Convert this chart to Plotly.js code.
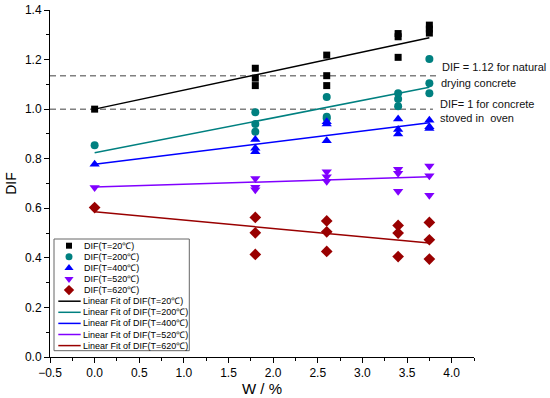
<!DOCTYPE html>
<html>
<head>
<meta charset="utf-8">
<script src="https://cdn.plot.ly/plotly-3.0.1.min.js"></script>
<style>html,body{margin:0;padding:0;background:#fff;}#chart{width:550px;height:398px;}</style>
</head>
<body>
<div id="chart"></div>
<script>
// ---------- data ----------
const seriesNames = ["DIF(T=20℃)", "DIF(T=200℃)", "DIF(T=400℃)", "DIF(T=520℃)", "DIF(T=620℃)"];
const fitNames = ["Linear Fit of DIF(T=20℃)", "Linear Fit of DIF(T=200℃)", "Linear Fit of DIF(T=400℃)", "Linear Fit of DIF(T=520℃)", "Linear Fit of DIF(T=620℃)"];
const pointX = [0, 1.8, 1.8, 1.8, 2.6, 2.6, 2.6, 3.4, 3.4, 3.4, 3.75, 3.75, 3.75];
const dif20  = [1.0, 1.165, 1.125, 1.095, 1.218, 1.135, 1.095, 1.305, 1.292, 1.209, 1.339, 1.323, 1.307];
const dif200 = [0.854, 0.987, 0.94, 0.909, 1.049, 0.969, 0.962, 1.064, 1.041, 1.012, 1.202, 1.104, 1.064];
const dif400 = [0.778, 0.878, 0.842, 0.828, 0.949, 0.94, 0.872, 0.96, 0.918, 0.9, 0.955, 0.929, 0.922];
const dif520 = [0.684, 0.72, 0.685, 0.675, 0.747, 0.727, 0.709, 0.757, 0.741, 0.669, 0.771, 0.731, 0.653];
const dif620 = [0.603, 0.563, 0.501, 0.414, 0.549, 0.505, 0.426, 0.531, 0.500, 0.405, 0.543, 0.473, 0.395];
const fitX = [0, 3.75];
const fit20  = [1.0, 1.288];
const fit200 = [0.824, 1.088];
const fit400 = [0.778, 0.945];
const fit520 = [0.686, 0.727];
const fit620 = [0.586, 0.46];
const refLevels = [1.135, 1.0];
const refEnds = [3.835, 3.79];
const refLabels = [["DIF = 1.12 for natural", "drying concrete"], ["DIF= 1 for concrete", "stoved in\u00a0\u00a0oven"]];

// ---------- styles ----------
const FONT = "Arial, 'Liberation Sans', sans-serif";
const colors = ["#000000", "#008080", "#0000FF", "#8000FF", "#990000"];
const symbols = ["square", "circle", "triangle-up", "triangle-down", "diamond"];
const sizes = [7, 8, 9, 9, 9];
const ys = [dif20, dif200, dif400, dif520, dif620];
const fits = [fit20, fit200, fit400, fit520, fit620];

const traces = [];
for (let i = 0; i < 5; i++) {
  traces.push({
    type: "scatter", mode: "lines", x: fitX, y: fits[i], name: fitNames[i],
    line: {color: colors[i], width: 1.5}, showlegend: false, hoverinfo: "skip"
  });
}
for (let i = 0; i < 5; i++) {
  traces.push({
    type: "scatter", mode: "markers", x: pointX, y: ys[i], name: seriesNames[i],
    marker: {color: colors[i], symbol: symbols[i], size: sizes[i], line: {width: 0}},
    showlegend: false, cliponaxis: false
  });
}

// ---------- custom legend (pixel-like overlay axes) ----------
const legX0 = 54, legX1 = 189.3, legY0 = 239, legY1 = 350.7;
const legFirst = 245.7, legStep = 11.1;
const legSymX = 69, legLineX = [58.3, 80.7], legTextX = 81.5;
const annotations = [];
const shapes = [];
for (let i = 0; i < 5; i++) {
  const yy = legFirst + legStep * i;
  traces.push({
    type: "scatter", mode: "markers", x: [legSymX], y: [yy], xaxis: "x2", yaxis: "y2",
    marker: {color: colors[i], symbol: symbols[i], size: sizes[i] - 1, line: {width: 0}},
    showlegend: false, hoverinfo: "skip"
  });
  annotations.push({xref: "x2", yref: "y2", x: legTextX, y: yy, text: seriesNames[i],
    showarrow: false, xanchor: "left", yanchor: "middle", font: {family: FONT, size: 9, color: "#000"}});
}
for (let i = 0; i < 5; i++) {
  const yy = legFirst + legStep * (i + 5);
  traces.push({
    type: "scatter", mode: "lines", x: legLineX, y: [yy, yy], xaxis: "x2", yaxis: "y2",
    line: {color: colors[i], width: 1.5}, showlegend: false, hoverinfo: "skip"
  });
  annotations.push({xref: "x2", yref: "y2", x: legTextX - 1, y: yy, text: fitNames[i],
    showarrow: false, xanchor: "left", yanchor: "middle", font: {family: FONT, size: 9, color: "#000"}});
}
shapes.push({type: "rect", xref: "x2", yref: "y2", x0: legX0, x1: legX1, y0: legY0, y1: legY1,
  line: {color: "#666", width: 1}, fillcolor: "rgba(0,0,0,0)", layer: "below"});

// reference dashed lines
for (let i = 0; i < refLevels.length; i++) {
  shapes.push({type: "line", xref: "x", yref: "y", x0: -0.5, x1: refEnds[i], y0: refLevels[i], y1: refLevels[i],
    line: {color: "#808080", width: 1.5, dash: "6px,4px"}, layer: "below"});
}
// reference labels
const refTextPos = [[[440, 66.7], [439.3, 83.3]], [[437.7, 104.3], [437.7, 117.7]]];
for (let i = 0; i < 2; i++) {
  for (let j = 0; j < 2; j++) {
    annotations.push({xref: "x2", yref: "y2", x: refTextPos[i][j][0], y: refTextPos[i][j][1],
      text: refLabels[i][j], showarrow: false, xanchor: "left", yanchor: "middle",
      font: {family: FONT, size: 11, color: "#111"}});
  }
}

const layout = {
  width: 550, height: 398,
  margin: {l: 50, r: 76, t: 10, b: 41, pad: 0},
  paper_bgcolor: "#fff", plot_bgcolor: "#fff",
  font: {family: FONT, size: 12, color: "#000"},
  showlegend: false,
  xaxis: {
    range: [-0.5, 4.25], dtick: 0.5, tick0: 0, tickformat: ".1f",
    showline: true, linecolor: "#000", linewidth: 1, showgrid: false, zeroline: false,
    ticks: "outside", ticklen: 5, tickcolor: "#000", tickfont: {family: FONT, size: 12, color: "#000"},
    minor: {dtick: 0.25, ticklen: 3, ticks: "outside", tickcolor: "#000", showgrid: false},
    title: {text: "W / %", font: {family: FONT, size: 15, color: "#000"}, standoff: 3}
  },
  yaxis: {
    range: [0, 1.4], dtick: 0.2, tick0: 0, tickformat: ".1f",
    showline: true, linecolor: "#000", linewidth: 1, showgrid: false, zeroline: false,
    ticks: "outside", ticklen: 5, tickcolor: "#000", tickfont: {family: FONT, size: 12, color: "#000"},
    minor: {dtick: 0.1, ticklen: 3, ticks: "outside", tickcolor: "#000", showgrid: false},
    title: {text: "DIF", font: {family: FONT, size: 14, color: "#000"}, standoff: 5}
  },
  xaxis2: {overlaying: "x", anchor: "y2", range: [50, 474], visible: false, fixedrange: true},
  yaxis2: {overlaying: "y", anchor: "x2", range: [357, 10], visible: false, fixedrange: true},
  shapes: shapes,
  annotations: annotations
};

Plotly.newPlot("chart", traces, layout, {displayModeBar: false, staticPlot: true});
</script>
</body>
</html>
